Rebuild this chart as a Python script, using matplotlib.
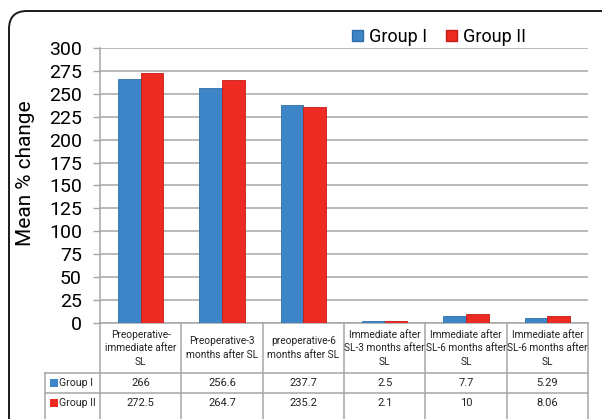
import matplotlib
matplotlib.use("Agg")
import matplotlib.pyplot as plt
import matplotlib.transforms as mtransforms
from matplotlib.patches import FancyBboxPatch, Rectangle
import numpy as np

plt.rcParams['font.family'] = ['Roboto', 'DejaVu Sans']

categories = [
    "Preoperative-\nimmediate after\nSL",
    "Preoperative-3\nmonths after SL",
    "preoperative-6\nmonths after SL",
    "Immediate after\nSL-3 months after\nSL",
    "Immediate after\nSL-6 months after\nSL",
    "Immediate after\nSL-6 months after\nSL",
]
series_names = ["Group I", "Group II"]
group1 = [266, 256.6, 237.7, 2.5, 7.7, 5.29]
group2 = [272.5, 264.7, 235.2, 2.1, 10, 8.06]
group1_txt = ["266", "256.6", "237.7", "2.5", "7.7", "5.29"]
group2_txt = ["272.5", "264.7", "235.2", "2.1", "10", "8.06"]
yticks = list(range(0, 301, 25))

BLUE = "#3d85c6"
RED = "#ee2b22"
GRID = "#a6a6a6"
TXT = "#222222"

W, H = 602, 419
fig = plt.figure(figsize=(W / 100, H / 100), dpi=100)

# plot area in pixels
ax_l, ax_r, ax_t, ax_b = 100, 588, 47.7, 323.3
ax = fig.add_axes([ax_l / W, 1 - ax_b / H, (ax_r - ax_l) / W, (ax_b - ax_t) / H])

x = np.arange(len(categories))
bw = 0.28
ax.bar(x - bw / 2, group1, bw, color=BLUE, edgecolor="#2f6ea8", linewidth=0.6, zorder=3)
ax.bar(x + bw / 2, group2, bw, color=RED, edgecolor="#c01d16", linewidth=0.6, zorder=3)

ax.set_xlim(-0.5, len(categories) - 0.5)
ax.set_ylim(0, 300)
ax.set_yticks(yticks)
ax.set_yticklabels([str(t) for t in yticks], fontsize=14)
ax.tick_params(axis='y', length=5, width=1, color=GRID, pad=8)
ax.set_xticks([])
ax.grid(axis='y', color=GRID, linewidth=1.1, zorder=0)
for s in ["top", "right", "bottom"]:
    ax.spines[s].set_visible(False)
ax.spines["left"].set_color(GRID)
ax.spines["left"].set_linewidth(1.1)
ax.set_ylabel("Mean % change", fontsize=15, va='center')
ax.yaxis.set_label_coords(-0.152, 0.545)

# data table below the axes
ph = ax_b - ax_t
pw = ax_r - ax_l
def fy(py):
    return (ax_b - py) / ph
def fx(px):
    return (px - ax_l) / pw

row_y = [323.3, 373, 393, 413]
lbl_x = 45
trans = ax.transAxes
lkw = dict(color=GRID, linewidth=1.1, transform=trans, clip_on=False)
ax.plot([0, 1], [fy(row_y[0])] * 2, **lkw)
for py in row_y[1:3]:
    ax.plot([fx(lbl_x), 1], [fy(py)] * 2, **lkw)
bt = mtransforms.blended_transform_factory(ax.transData, ax.transAxes)
for i in range(len(categories) + 1):
    ax.plot([i - 0.5, i - 0.5], [fy(row_y[0]), fy(430)], color=GRID, linewidth=1.1,
            transform=bt, clip_on=False)
ax.plot([fx(lbl_x)] * 2, [fy(row_y[1]), fy(430)], **lkw)

tfs = 7.3
for i, c in enumerate(categories):
    ax.text(i, fy((row_y[0] + row_y[1]) / 2), c, transform=bt, ha='center', va='center',
            fontsize=tfs, linespacing=1.45, color=TXT)
    ax.text(i, fy((row_y[1] + row_y[2]) / 2), group1_txt[i], transform=bt, ha='center',
            va='center', fontsize=8, color=TXT)
    ax.text(i, fy((row_y[2] + row_y[3]) / 2), group2_txt[i], transform=bt, ha='center',
            va='center', fontsize=8, color=TXT)

for r, (name, col) in enumerate(zip(series_names, [BLUE, RED])):
    yc = (row_y[1 + r] + row_y[2 + r]) / 2
    sq = Rectangle((50 / W, 1 - (yc + 4) / H), 8 / W, 8 / H, transform=fig.transFigure,
                   facecolor=col, edgecolor="none")
    fig.patches.append(sq)
    fig.text(59 / W, 1 - yc / H, name, ha='left', va='center', fontsize=7.6, color=TXT)

# legend
handles = [Rectangle((0, 0), 1, 1, facecolor=BLUE, edgecolor="#2f6ea8"),
           Rectangle((0, 0), 1, 1, facecolor=RED, edgecolor="#c01d16")]
fig.legend(handles, series_names, loc='center', bbox_to_anchor=(439 / W, 1 - 37 / H),
           ncol=2, frameon=False, fontsize=13, handlelength=0.6, handleheight=0.6,
           handletextpad=0.3, columnspacing=1.1, borderaxespad=0)

# rounded outer frame
frame = FancyBboxPatch((9, -20), 640, H - 11 + 20, boxstyle="round,pad=0,rounding_size=18",
                       transform=mtransforms.IdentityTransform(), facecolor="none",
                       edgecolor="#1a1a1a", linewidth=1.4)
fig.patches.append(frame)

fig.savefig("out.png", dpi=100)
